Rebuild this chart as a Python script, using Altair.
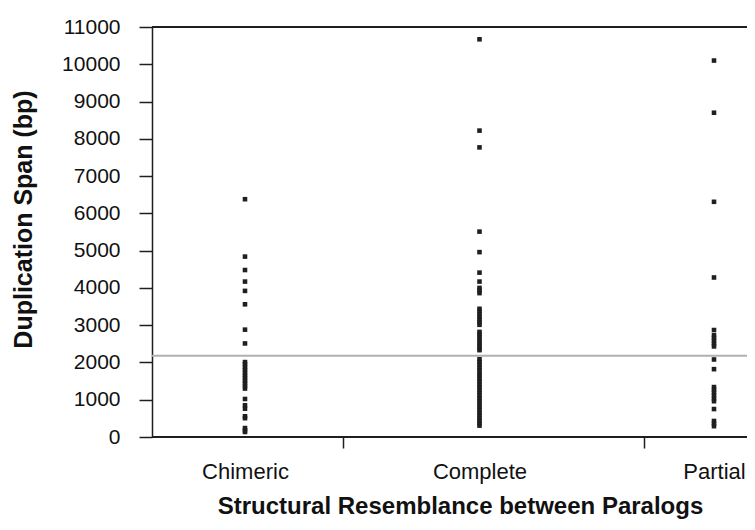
import altair as alt
import pandas as pd

categories = ["Chimeric", "Complete", "Partial"]

chimeric_spans = [6380, 4840, 4480, 4170, 3920, 3560, 2880, 2510,
                  2010, 1950, 1870, 1800, 1720, 1650, 1580, 1510, 1440, 1370, 1300,
                  1020, 850, 760, 555, 505, 240, 180, 135]
complete_spans = [10670, 8220, 7770, 5510, 4960, 4410, 4170,
                  4000, 3930, 3860,
                  3440, 3370, 3300, 3220, 3150, 3080, 3010,
                  2820, 2750, 2680, 2600, 2530, 2460, 2390, 2330,
                  2085, 2010, 1940, 1860, 1790, 1710, 1640, 1560, 1490, 1410, 1340,
                  1260, 1190, 1110, 1040, 960, 890, 810, 740, 660, 590, 510, 440, 370, 305]
partial_spans = [10100, 8700, 6310, 4280, 2870,
                 2730, 2660, 2580, 2500, 2430,
                 2080, 1820,
                 1340, 1270, 1190, 1110, 1030, 960,
                 750, 430, 360, 290]
reference_span = 2180
y_ticks = list(range(0, 11001, 1000))
y_min, y_max = 0, 11000

rows = []
for cat, vals in zip(categories, [chimeric_spans, complete_spans, partial_spans]):
    for v in vals:
        rows.append({"category": cat, "span": v})
df = pd.DataFrame(rows)

FONT = "Liberation Sans"
DARK = "#1f1f1f"

y_axis = alt.Axis(
    values=y_ticks, format="d", labelOverlap=False, title="Duplication Span (bp)",
    grid=False,
    tickSize=13, tickColor=DARK, tickWidth=1.5,
    domainColor=DARK, domainWidth=1.5,
    labelFontSize=21, labelFont=FONT, labelColor="#111", labelPadding=19,
    titleFontSize=25, titleFont=FONT, titleFontWeight="bold", titleColor="#111",
    titlePadding=25, titleY=192,
)
y_scale = alt.Scale(domain=[y_min, y_max], nice=False)

points = alt.Chart(df).mark_square(size=21, color=DARK, opacity=1).encode(
    x=alt.X(
        "category:N",
        scale=alt.Scale(type="point", domain=categories, range=[93, 562], padding=0),
        axis=alt.Axis(
            orient="bottom", title="Structural Resemblance between Paralogs",
            ticks=False, tickSize=0, domain=False, grid=False, labelAngle=0,
            labelFontSize=22, labelFont=FONT, labelColor="#111", labelPadding=24,
            titleFontSize=24, titleFont=FONT, titleFontWeight="bold", titleColor="#111",
            titlePadding=12, titleX=308,
        ),
    ),
    y=alt.Y("span:Q", scale=y_scale, axis=y_axis),
)

tick_layer = alt.Chart(df).mark_point(opacity=0).encode(
    x=alt.X(
        "category:N",
        scale=alt.Scale(type="band", domain=categories, range=[-110, 793],
                        paddingInner=0, paddingOuter=0),
        axis=alt.Axis(
            orient="bottom", values=["Complete", "Partial"], bandPosition=0,
            labels=False, domain=False, grid=False, title=None,
            tickSize=11, tickColor=DARK, tickWidth=1.5,
        ),
    ),
    y=alt.Y("span:Q", scale=y_scale, axis=y_axis),
)

ref_line = alt.Chart().mark_rule(color="#b0b0b0", strokeWidth=2).encode(
    y=alt.YDatum(reference_span, scale=y_scale, axis=y_axis)
)
top_line = alt.Chart().mark_rule(color=DARK, strokeWidth=2).encode(
    y=alt.YDatum(y_max, scale=y_scale, axis=y_axis)
)
bottom_line = alt.Chart().mark_rule(color=DARK, strokeWidth=2).encode(
    y=alt.YDatum(y_min, scale=y_scale, axis=y_axis)
)

chart = alt.layer(ref_line, top_line, bottom_line, tick_layer, points).resolve_scale(
    x="independent"
).properties(
    width=595, height=410,
    padding={"left": 144, "top": 19, "right": 0, "bottom": 90},
    autosize=alt.AutoSizeParams(type="none"),
    background="white",
).configure_view(stroke=None).configure_axisY(labelOverlap=False)

chart.save("out.html", embed_options={"renderer": "svg", "actions": False})
